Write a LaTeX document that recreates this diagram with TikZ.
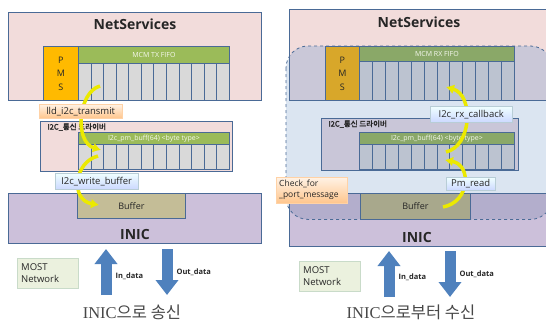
\documentclass[tikz,border=0pt]{standalone}
\usepackage{fontspec}
\setmainfont{Open Sans}
\newfontfamily\kr{Noto Sans CJK KR}
\newfontfamily\krb[FakeBold=2]{Noto Sans CJK KR}
\newfontfamily\capfont{Liberation Serif}
\usepackage{tikz}
\usetikzlibrary{arrows.meta,positioning,calc}
\definecolor{frame}{HTML}{4A6A96}
\definecolor{ink}{HTML}{262626}
\definecolor{blush}{HTML}{F2DCDB}
\definecolor{lilac}{HTML}{CCC0DA}
\definecolor{leaf}{HTML}{9BBB59}
\definecolor{cellgray}{HTML}{D9D9D9}
\definecolor{amber}{HTML}{FFBA00}
\definecolor{tan}{HTML}{C4BD97}
\definecolor{sky}{HTML}{DBE5F1}
\definecolor{skypink}{HTML}{CAC8D8}
\definecolor{skylilac}{HTML}{B3AECC}
\definecolor{amberdim}{HTML}{D8A72A}
\definecolor{leafdim}{HTML}{8AA868}
\definecolor{celldim}{HTML}{BCC3D0}
\definecolor{blushdim}{HTML}{C9C6D8}
\definecolor{tandim}{HTML}{A8A88C}
\definecolor{pipe}{HTML}{4F81BD}
\definecolor{flow}{HTML}{EBE900}
\definecolor{mint}{HTML}{EBF1DE}
\tikzset{blk/.style={draw=frame,line width=.8pt,anchor=north west,inner sep=0pt,text=ink},cell/.style={blk,fill=cellgray,minimum width=12.58pt},hdr/.style={blk,fill=leaf,text=white!90!leaf,font=\fontsize{7}{8}\selectfont},title/.style={font=\fontsize{14}{16}\selectfont\bfseries,text=ink},drvname/.style={anchor=west,font=\krb\fontsize{7.5}{9}\selectfont,text=ink},tagorange/.style={anchor=north west,draw=orange!35,top color=orange!10,bottom color=orange!45,inner sep=0pt,font=\fontsize{9.5}{11}\selectfont,text=ink},tagcyan/.style={anchor=north west,draw=cyan!30!gray!50,top color=cyan!6,bottom color=cyan!25!blue!20,inner sep=0pt,font=\fontsize{9.5}{11}\selectfont,text=ink},netbox/.style={anchor=north west,draw=green!20!gray!35,fill=mint,inner sep=0pt,minimum width=61pt,minimum height=30pt,text width=53pt,align=left,font=\fontsize{9.5}{12}\selectfont,text=ink},pipearr/.style={draw=pipe,line width=11pt,-{Triangle[length=15pt,width=22pt]}},pipelbl/.style={anchor=west,font=\fontsize{7.5}{9}\selectfont\bfseries,text=ink},flowarr/.style={draw=flow,line width=3.5pt,-{Latex[length=8pt,width=10pt]}},caption/.style={font=\fontsize{16.5}{18}\selectfont,text=ink!85}}

\begin{document}
\begin{tikzpicture}[x=1pt,y=-1pt]
\useasboundingbox (0,0) rectangle (546,324);

% transmit side
\node[blk,fill=blush,minimum width=253pt,minimum height=88pt] (ns1) at (8,12) {};
\node[title] (ns1t) at (135,24) {NetServices};
\node[blk,fill=amber,minimum width=35pt,minimum height=54pt,align=center,font=\fontsize{9}{13.5}\selectfont] (pms1) at (43,46) {P\\M\\S};
\node[hdr,minimum width=151pt,minimum height=17pt] (tx) at (78,46) {MCM TX FIFO};
\foreach \i in {0,...,11}{\node[cell,minimum height=37pt] (txc\i) at ({78+\i*12.583},63) {};}
\node[blk,fill=blush,minimum width=192pt,minimum height=50pt] (drv1) at (40,121) {};
\node[drvname] (drv1t) at (44,127) {I2C\_통신 드라이버};
\node[hdr,minimum width=151pt,minimum height=12pt] (pm1) at (78,132) {I2c\_pm\_buff(64) <byte type>};
\foreach \i in {0,...,11}{\node[cell,minimum height=25pt] (pmc\i) at ({78+\i*12.583},144) {};}
\node[blk,fill=lilac,minimum width=253pt,minimum height=50pt] (inic1) at (8,193) {};
\node[blk,fill=tan,minimum width=108pt,minimum height=25pt,font=\fontsize{9}{10}\selectfont] (buf1) at (77,193) {Buffer};
\node[title] (inic1t) at (135,234) {INIC};
\coordinate (a1s) at (100,86);
\coordinate (a1e) at (101,150);
\coordinate (a2s) at (98,156);
\coordinate (a2e) at (99,205);
\draw[flowarr] (a1s) .. controls (78,92) and (74,142) .. (a1e);
\draw[flowarr] (a2s) .. controls (74,162) and (70,200) .. (a2e);
\node[tagorange,minimum width=83pt,minimum height=14pt] (lld) at (39,104) {lld\_i2c\_transmit};
\node[tagcyan,minimum width=83pt,minimum height=16pt] (wr) at (55,173) {I2c\_write\_buffer};
\node[netbox] (most1) at (17,258) {MOST\\Network};
\coordinate (in1s) at (106,295);
\coordinate (in1e) at (106,249);
\coordinate (out1s) at (167,249);
\coordinate (out1e) at (167,295);
\draw[pipearr] (in1s) -- (in1e);
\draw[pipearr] (out1s) -- (out1e);
\node[pipelbl] (in1t) at (112,276) {In\_data};
\node[pipelbl] (out1t) at (173,272) {Out\_data};
\node[caption] (cap1) at (132,312) {\capfont INIC\kr 으로 송신};

% receive side
\node[blk,fill=blush,minimum width=262pt,minimum height=91pt] (ns2) at (289,9) {};
\node[blk,fill=lilac,minimum width=262pt,minimum height=53pt] (inic2) at (289,193) {};
\node[anchor=north west,fill=sky,rounded corners=22pt,inner sep=0pt,minimum width=266pt,minimum height=173pt] (zone) at (286,46) {};
\begin{scope}
\clip (ns2.north west) rectangle (ns2.south east);
\fill[skypink,rounded corners=22pt] (zone.north west) rectangle (zone.south east);
\end{scope}
\begin{scope}
\clip (inic2.north west) rectangle (inic2.south east);
\fill[skylilac,rounded corners=22pt] (zone.north west) rectangle (zone.south east);
\end{scope}
\draw[frame,line width=.8pt] (ns2.north west) rectangle (ns2.south east);
\draw[frame,line width=.8pt] (inic2.north west) rectangle (inic2.south east);
\draw[frame,dashed,line width=.8pt,rounded corners=22pt] (zone.north west) rectangle (zone.south east);
\node[title] (ns2t) at (419,22) {NetServices};
\node[blk,fill=amberdim,minimum width=34pt,minimum height=54pt,align=center,font=\fontsize{9}{13.5}\selectfont] (pms2) at (325,46) {P\\M\\S};
\node[hdr,fill=leafdim,minimum width=155pt,minimum height=15pt] (rx) at (359,46) {MCM RX FIFO};
\foreach \i in {0,...,11}{\node[cell,fill=celldim,minimum width=12.92pt,minimum height=39pt] (rxc\i) at ({359+\i*12.917},61) {};}
\node[blk,fill=blushdim,minimum width=197pt,minimum height=52pt] (drv2) at (321,118) {};
\node[drvname] (drv2t) at (325,124) {I2C\_통신 드라이버};
\node[hdr,fill=leafdim,minimum width=155pt,minimum height=12pt] (pm2) at (359,132) {I2c\_pm\_buff(64) <byte type>};
\foreach \i in {0,...,11}{\node[cell,fill=celldim,minimum width=12.92pt,minimum height=25pt] (pmd\i) at ({359+\i*12.917},144) {};}
\node[blk,fill=tandim,minimum width=110pt,minimum height=26pt,font=\fontsize{9}{10}\selectfont] (buf2) at (360,193) {Buffer};
\node[title] (inic2t) at (417,237) {INIC};
\coordinate (b1s) at (443,207);
\coordinate (b1e) at (445,160);
\coordinate (b2s) at (446,152);
\coordinate (b2e) at (446,87);
\draw[flowarr] (b1s) .. controls (470,202) and (472,165) .. (b1e);
\draw[flowarr] (b2s) .. controls (472,146) and (474,95) .. (b2e);
\node[tagcyan,minimum width=82pt,minimum height=16pt] (cb) at (430,106) {I2c\_rx\_callback};
\node[tagcyan,minimum width=49pt,minimum height=13pt] (pr) at (446,177) {Pm\_read};
\node[tagorange,minimum width=71pt,minimum height=26pt,text width=65pt,align=left,font=\fontsize{8.5}{11}\selectfont] (chk) at (276,177) {Check\_for\\\_port\_message};
\node[netbox] (most2) at (299,261) {MOST\\Network};
\coordinate (in2s) at (389,297);
\coordinate (in2e) at (389,251);
\coordinate (out2s) at (450,251);
\coordinate (out2e) at (450,297);
\draw[pipearr] (in2s) -- (in2e);
\draw[pipearr] (out2s) -- (out2e);
\node[pipelbl] (in2t) at (395,277) {In\_data};
\node[pipelbl] (out2t) at (456,274) {Out\_data};
\node[caption] (cap2) at (411,312) {\capfont INIC\kr 으로부터 수신};
\end{tikzpicture}
\end{document}
